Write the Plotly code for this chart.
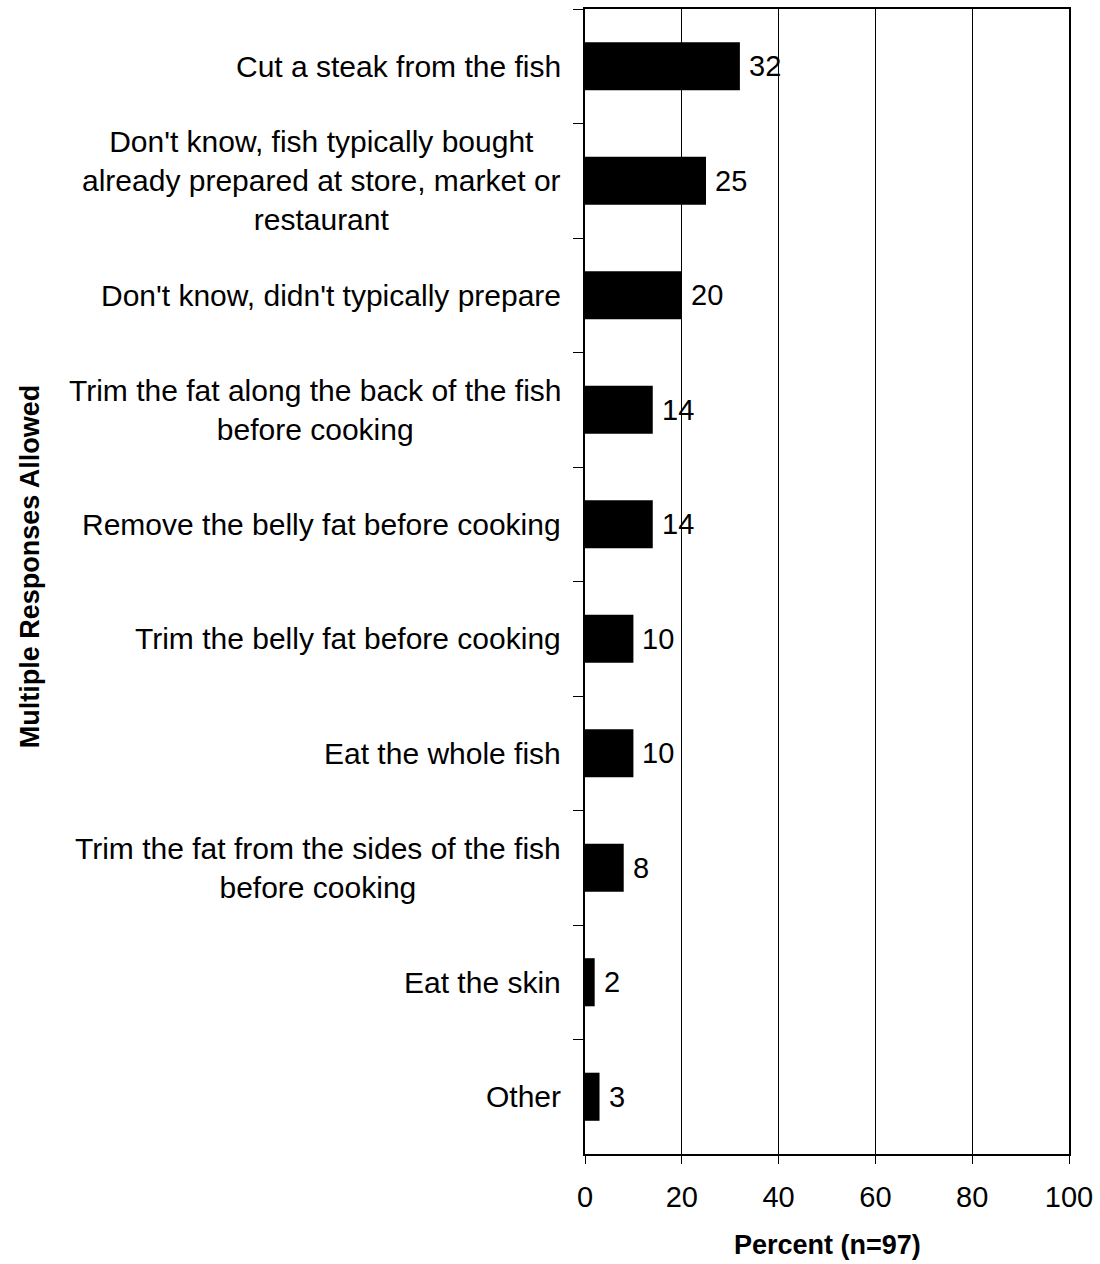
import plotly.graph_objects as go

# Survey responses: how the fish is typically prepared
categories = [
    "Cut a steak from the fish",
    "Don't know, fish typically bought<br>already prepared at store, market or<br>restaurant",
    "Don't know, didn't typically prepare",
    "Trim the fat along the back of the fish<br>before cooking",
    "Remove the belly fat before cooking",
    "Trim the belly fat before cooking",
    "Eat the whole fish",
    "Trim the fat from the sides of the fish<br>before cooking",
    "Eat the skin",
    "Other",
]
percent = [32, 25, 20, 14, 14, 10, 10, 8, 2, 3]
x_ticks = [0, 20, 40, 60, 80, 100]

FONT = "Liberation Sans, Arial, sans-serif"
W, H = 1100, 1264
L, R, T, B = 585, 29, 7, 110
PW, PH = W - L - R, H - T - B

fig = go.Figure(
    go.Bar(
        x=percent,
        y=categories,
        orientation="h",
        marker=dict(color="black", line=dict(width=0)),
        width=0.42,
        hoverinfo="x+y",
    )
)

# value labels just past the end of each bar
for cat, v in zip(categories, percent):
    fig.add_annotation(
        x=v, xref="x", y=cat, yref="y",
        text=str(v), showarrow=False,
        xanchor="left", yanchor="middle", xshift=7,
        font=dict(family=FONT, size=29, color="black"),
    )

# category labels, centred line by line to the left of the axis
for cat in categories:
    fig.add_annotation(
        x=0, xref="paper", y=cat, yref="y",
        text=cat, showarrow=False,
        xanchor="right", yanchor="middle", align="center",
        xshift=-22,
        font=dict(family=FONT, size=30, color="black"),
    )

fig.add_annotation(
    x=(28 - L) / PW, xref="paper", y=((H - B) - 565) / PH, yref="paper",
    text="<b>Multiple Responses Allowed</b>", textangle=-90, showarrow=False,
    xanchor="center", yanchor="middle",
    font=dict(family=FONT, size=27, color="black"),
)
fig.add_annotation(
    x=0.5, xref="paper", y=-(1245 - (H - B)) / PH, yref="paper",
    text="<b>Percent (n=97)</b>", showarrow=False,
    xanchor="center", yanchor="middle",
    font=dict(family=FONT, size=27, color="black"),
)

fig.update_layout(
    width=W, height=H,
    margin=dict(l=L, r=R, t=T, b=B),
    paper_bgcolor="white", plot_bgcolor="white",
    showlegend=False,
)
fig.update_xaxes(
    range=[0, 100], tickvals=x_ticks, ticktext=[str(v) for v in x_ticks],
    showgrid=True, gridcolor="black", gridwidth=1,
    showline=True, linecolor="black", linewidth=2, mirror=True,
    ticks="outside", ticklen=8, tickcolor="black", tickwidth=1,
    ticklabelstandoff=8,
    tickfont=dict(family=FONT, size=29, color="black"),
    zeroline=False, fixedrange=True,
)
fig.update_yaxes(
    categoryorder="array", categoryarray=categories, autorange="reversed",
    showticklabels=False, tickson="boundaries",
    ticks="outside", ticklen=10, tickcolor="black", tickwidth=1,
    showline=True, linecolor="black", linewidth=2, mirror=True,
    showgrid=False, zeroline=False, fixedrange=True,
)

fig.write_html("out.html")
